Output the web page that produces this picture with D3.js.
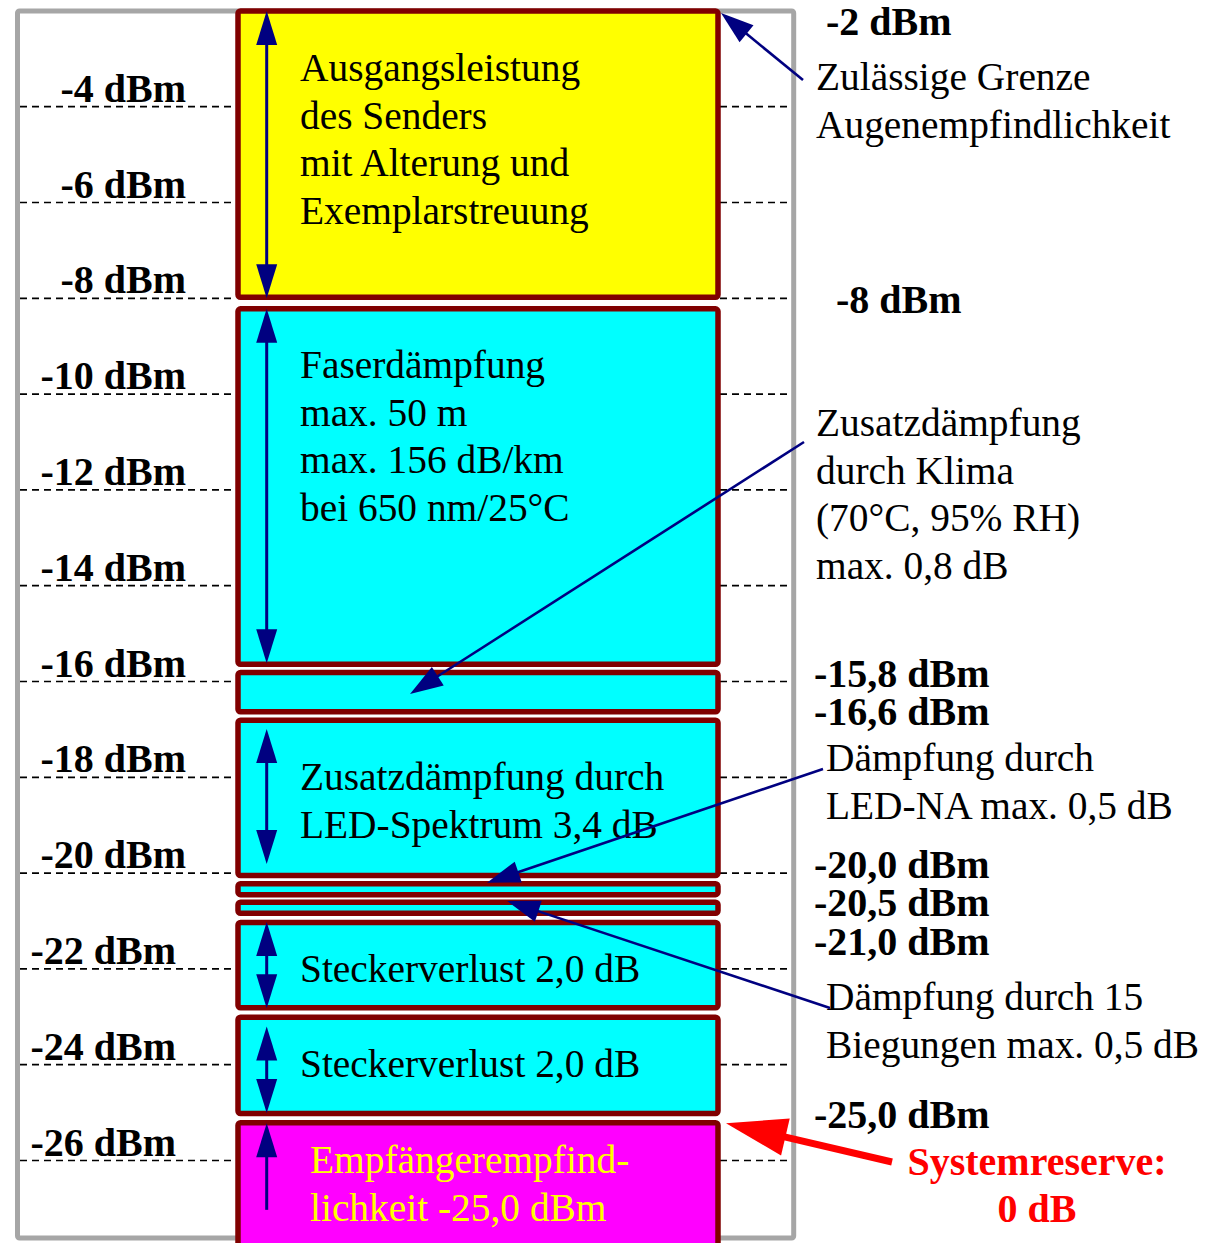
<!DOCTYPE html>
<html>
<head>
<meta charset="utf-8">
<script src="https://cdn.jsdelivr.net/npm/d3@7"></script>
<style>
  html, body { margin: 0; padding: 0; background: #ffffff; }
  svg { display: block; }
  text { font-family: "Liberation Serif", "Times New Roman", serif; }
</style>
</head>
<body>
<svg id="chart" width="1220" height="1243"></svg>
<script>
// ---------------- data ----------------
const tickValues = [-4, -6, -8, -10, -12, -14, -16, -18, -20, -22, -24, -26];
const tickLabels = ["-4 dBm", "-6 dBm", "-8 dBm", "-10 dBm", "-12 dBm", "-14 dBm",
                    "-16 dBm", "-18 dBm", "-20 dBm", "-22 dBm", "-24 dBm", "-26 dBm"];

// budget blocks (dBm)
const boxNames  = ["sender", "faser", "klima", "ledSpektrum", "ledNA", "biegung", "stecker1", "stecker2", "empfaenger"];
const boxKinds  = ["source", "loss", "loss", "loss", "loss", "loss", "loss", "loss", "receiver"];
const boxTop    = [-2.0, -8.22, -15.81, -16.81, -20.22, -20.61, -21.03, -23.01, -25.21];
const boxBottom = [-7.98, -15.64, -16.63, -20.05, -20.45, -20.84, -22.81, -25.02, -27.9];
const boxText = [
  ["Ausgangsleistung", "des Senders", "mit Alterung und", "Exemplarstreuung"],
  ["Faserdämpfung", "max. 50 m", "max. 156 dB/km", "bei 650 nm/25°C"],
  [],
  ["Zusatzdämpfung durch", "LED-Spektrum 3,4 dB"],
  [],
  [],
  ["Steckerverlust 2,0 dB"],
  ["Steckerverlust 2,0 dB"],
  ["Empfängerempfind-", "lichkeit -25,0 dBm"]
];

// span arrows inside the blocks (from, to in dBm; "up" = single head at top)
const spanFrom  = [-2.0, -8.22, -16.99, -21.02, -23.2, -25.22];
const spanTo    = [-8.0, -15.62, -19.81, -22.82, -25.01, -27.03];
const spanHeads = ["both", "both", "both", "both", "both", "up"];

// level labels on the right
const levelValues = [-2, -8, -15.8, -16.6, -20.0, -20.5, -21.0, -25.0];
const levelLabels = ["-2 dBm", "-8 dBm", "-15,8 dBm", "-16,6 dBm", "-20,0 dBm", "-20,5 dBm", "-21,0 dBm", "-25,0 dBm"];

// annotations
const noteText = [
  ["Zulässige Grenze", "Augenempfindlichkeit"],
  ["Zusatzdämpfung", "durch Klima", "(70°C, 95% RH)", "max. 0,8 dB"],
  ["Dämpfung durch", "LED-NA max. 0,5 dB"],
  ["Dämpfung durch 15", "Biegungen max. 0,5 dB"]
];
const noteTargetValue = [-2.0, -16.26, -20.2, -20.58];   // where each note's arrow points
const reserveText = ["Systemreserve:", "0 dB"];
const reserveTargetValue = -25.21;

// ---------------- layout ----------------
const svg = d3.select("#chart");
const y = d3.scaleLinear().domain([-2, -26]).range([10.9, 1160.5]);

const boxX0 = 238, boxX1 = 718;
const frame = { x0: 17.5, x1: 793.7, y0: 11, y1: 1238 };
const NAVY = "#000080", DARKRED = "#800000";
const fills = { source: "#ffff00", loss: "#00ffff", receiver: "#ff00ff" };

function headPoints(x1, y1, x2, y2, L, W) {
  const dx = x2 - x1, dy = y2 - y1, d = Math.hypot(dx, dy);
  const ux = dx / d, uy = dy / d;
  const bx = x2 - ux * L, by = y2 - uy * L;
  return [[x2, y2], [bx - uy * W, by + ux * W], [bx + uy * W, by - ux * W]];
}
function drawArrow(g, x1, y1, x2, y2, color, sw, L, W, twoHeads) {
  const dx = x2 - x1, dy = y2 - y1, d = Math.hypot(dx, dy);
  const ux = dx / d, uy = dy / d;
  const sx = twoHeads ? x1 + ux * (L - 2) : x1, sy = twoHeads ? y1 + uy * (L - 2) : y1;
  g.append("line")
    .attr("x1", sx).attr("y1", sy)
    .attr("x2", x2 - ux * (L - 2)).attr("y2", y2 - uy * (L - 2))
    .attr("stroke", color).attr("stroke-width", sw);
  g.append("polygon").attr("points", headPoints(x1, y1, x2, y2, L, W).join(" ")).attr("fill", color);
  if (twoHeads) g.append("polygon").attr("points", headPoints(x2, y2, x1, y1, L, W).join(" ")).attr("fill", color);
}

// frame
svg.append("rect")
  .attr("x", frame.x0).attr("y", frame.y0)
  .attr("width", frame.x1 - frame.x0).attr("height", frame.y1 - frame.y0)
  .attr("rx", 2).attr("fill", "none")
  .attr("stroke", "#a6a6a6").attr("stroke-width", 5);

// dashed grid lines
const grid = svg.append("g");
tickValues.forEach(v => {
  [[20, boxX0 - 2], [boxX1 + 2, 791]].forEach(([a, b]) => {
    grid.append("line")
      .attr("x1", a).attr("x2", b)
      .attr("y1", y(v)).attr("y2", y(v))
      .attr("stroke", "#000").attr("stroke-width", 1.7)
      .attr("stroke-dasharray", "7,5");
  });
});

// left tick labels
svg.append("g").selectAll("text")
  .data(tickValues)
  .join("text")
  .attr("x", v => v <= -22 ? 176 : 186)
  .attr("y", v => y(v) - 5)
  .attr("text-anchor", "end")
  .attr("font-size", 40).attr("font-weight", "bold")
  .text((v, i) => tickLabels[i]);

// blocks
const boxG = svg.append("g");
boxNames.forEach((name, i) => {
  const y0 = y(boxTop[i]), y1 = y(boxBottom[i]);
  boxG.append("rect")
    .attr("x", boxX0).attr("y", y0)
    .attr("width", boxX1 - boxX0).attr("height", y1 - y0)
    .attr("rx", 2.5)
    .attr("fill", fills[boxKinds[i]])
    .attr("stroke", DARKRED).attr("stroke-width", 5.5);
});

// span arrows inside blocks
const spanG = svg.append("g");
spanFrom.forEach((v, i) => {
  const ya = y(v), yb = y(spanTo[i]);
  if (spanHeads[i] === "both") {
    drawArrow(spanG, 266.7, ya, 266.7, yb, NAVY, 3, 34, 10.5, true);
  } else {
    drawArrow(spanG, 266.7, yb, 266.7, ya, NAVY, 3, 34, 10.5, false);
  }
});

// block texts
const textG = svg.append("g");
const boxTextBase = [81, 378, null, 790, null, null, 982, 1077, 1173];
const boxTextX    = [300, 300, null, 300, null, null, 300, 300, 310];
boxText.forEach((lines, i) => {
  lines.forEach((t, j) => {
    textG.append("text")
      .attr("x", boxTextX[i]).attr("y", boxTextBase[i] + j * 47.7)
      .attr("font-size", 39.4)
      .attr("fill", boxKinds[i] === "receiver" ? "#ffff00" : "#000")
      .text(t);
  });
});

// right level labels
const levelDy = [24, 15, 15, 14.5, 5, 19, 33.5, 15.5];
const levelX  = [826, 836, 814, 814, 814, 814, 814, 814];
svg.append("g").selectAll("text")
  .data(levelValues)
  .join("text")
  .attr("x", (v, i) => levelX[i])
  .attr("y", (v, i) => y(v) + levelDy[i])
  .attr("font-size", 40).attr("font-weight", "bold")
  .text((v, i) => levelLabels[i]);

// notes
const noteX = [816, 816, 826, 826];
const noteBase = [90, 436, 771, 1010];
const noteTipX = [721, 410, 487, 507];
const noteTail = [[803, 80], [804, 442], [823, 769], [830, 1008]];
const noteG = svg.append("g");
noteText.forEach((lines, i) => {
  lines.forEach((t, j) => {
    noteG.append("text")
      .attr("x", noteX[i]).attr("y", noteBase[i] + j * 47.7)
      .attr("font-size", 39.4).text(t);
  });
  drawArrow(noteG, noteTail[i][0], noteTail[i][1], noteTipX[i], y(noteTargetValue[i]) + (i === 0 ? 2 : 0),
            NAVY, 2.6, 33, 11, false);
});

// system reserve
const resG = svg.append("g");
reserveText.forEach((t, j) => {
  resG.append("text")
    .attr("x", 1037).attr("y", 1175 + j * 47)
    .attr("text-anchor", "middle")
    .attr("font-size", 40).attr("font-weight", "bold")
    .attr("fill", "#ff0000").text(t);
});
drawArrow(resG, 892, 1162, 726, y(reserveTargetValue) + 0.5, "#ff0000", 7, 61, 19, false);
</script>
</body>
</html>
